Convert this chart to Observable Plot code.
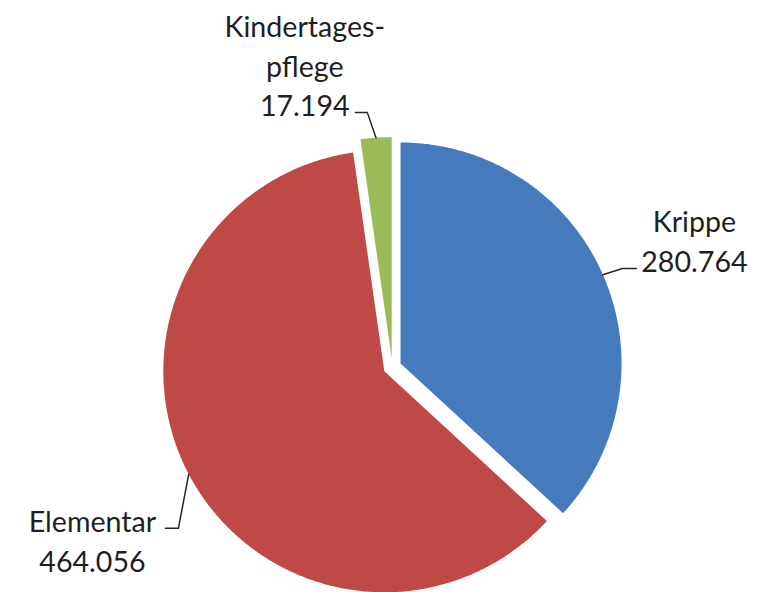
<!DOCTYPE html>
<html lang="de">
<head>
<meta charset="utf-8">
<title>Kinderbetreuung nach Betreuungsart</title>
<script src="https://cdn.jsdelivr.net/npm/d3@7"></script>
<script src="https://cdn.jsdelivr.net/npm/@observablehq/plot@0.6"></script>
<style>
  html, body { margin: 0; padding: 0; background: #ffffff; }
  #chart svg { display: block; }
</style>
</head>
<body>
<div id="chart"></div>
<script>
// Betreute Kinder nach Betreuungsart
const categories = ["Krippe", "Elementar", "Kindertagespflege"];
const labelNames = ["Krippe", "Elementar", "Kindertages-\npflege"];
const values = [280764, 464056, 17194];
const colors = ["#457abd", "#be4945", "#9bbb59"];

// Label placement around the pie (angle clockwise from 12 o'clock, distance in pie radii)
const labelAngleDeg = [67.1, 240.1, 343.9];
const labelRadius = [1.484, 1.565, 1.428];
// Leader lines: elbow point (polar) and horizontal tail towards the label (in pie radii)
const elbowAngleDeg = [66.8, 233.0, -5.6];
const elbowRadius = [1.133, 1.212, 1.157];
const tailLength = [0.063, -0.059, -0.054];

// Canvas and pie geometry
const width = 767, height = 592;
const radiusPx = 221;
const centerPx = [391.8, 366.6];
const explode = 9 / radiusPx;

const de = d3.formatLocale({decimal: ",", thousands: ".", grouping: [3], currency: ["", " €"]});
const fmt = de.format(",d");

const data = categories.map((name, i) => ({name, value: values[i], label: labelNames[i]}));
const arcs = d3.pie().sort(null).value(d => d.value)(data);

const rad = deg => deg * Math.PI / 180;
const polar = (a, r) => [r * Math.sin(a), r * Math.cos(a)];

// Slice outlines in pie-radius units (y up)
const slicePoints = [];
const leaderPoints = [];
const labels = [];
arcs.forEach((a, i) => {
  const mid = (a.startAngle + a.endAngle) / 2;
  const [ox, oy] = polar(mid, explode);
  const pts = [[ox, oy]];
  const n = Math.max(2, Math.ceil((a.endAngle - a.startAngle) / (Math.PI / 360)));
  for (let k = 0; k <= n; k++) {
    const t = a.startAngle + (a.endAngle - a.startAngle) * k / n;
    const [x, y] = polar(t, 1);
    pts.push([ox + x, oy + y]);
  }
  pts.push([ox, oy]);
  pts.forEach(([x, y]) => slicePoints.push({name: a.data.name, x, y}));

  // leader: from the slice rim at its mid angle, to the elbow, then horizontally
  const [sx, sy] = polar(mid, 1);
  const [ex, ey] = polar(rad(elbowAngleDeg[i]), elbowRadius[i]);
  leaderPoints.push(
    {name: a.data.name, x: ox + sx, y: oy + sy},
    {name: a.data.name, x: ex, y: ey},
    {name: a.data.name, x: ex + tailLength[i], y: ey}
  );

  const [lx, ly] = polar(rad(labelAngleDeg[i]), labelRadius[i]);
  labels.push({name: a.data.name, x: lx, y: ly, text: `${a.data.label}\n${fmt(a.data.value)}`});
});

const xDomain = [-centerPx[0] / radiusPx, (width - centerPx[0]) / radiusPx];
const yDomain = [-(height - centerPx[1]) / radiusPx, centerPx[1] / radiusPx];

const chart = Plot.plot({
  width, height,
  margin: 0,
  style: {background: "#ffffff", overflow: "visible"},
  x: {domain: xDomain, axis: null},
  y: {domain: yDomain, axis: null},
  color: {domain: categories, range: colors},
  marks: [
    Plot.line(slicePoints, {x: "x", y: "y", z: "name", fill: "name", stroke: "none", curve: "linear"}),
    Plot.line(leaderPoints, {x: "x", y: "y", z: "name", stroke: "#262626", strokeWidth: 1.5, curve: "linear"}),
    Plot.text(labels, {
      x: "x", y: "y", text: "text",
      fontSize: 28.6, lineHeight: 1.38, lineAnchor: "middle", textAnchor: "middle",
      fontFamily: "Lato, 'Open Sans', sans-serif", fill: "#1f1f1f"
    })
  ]
});

document.getElementById("chart").appendChild(chart);
</script>
</body>
</html>
